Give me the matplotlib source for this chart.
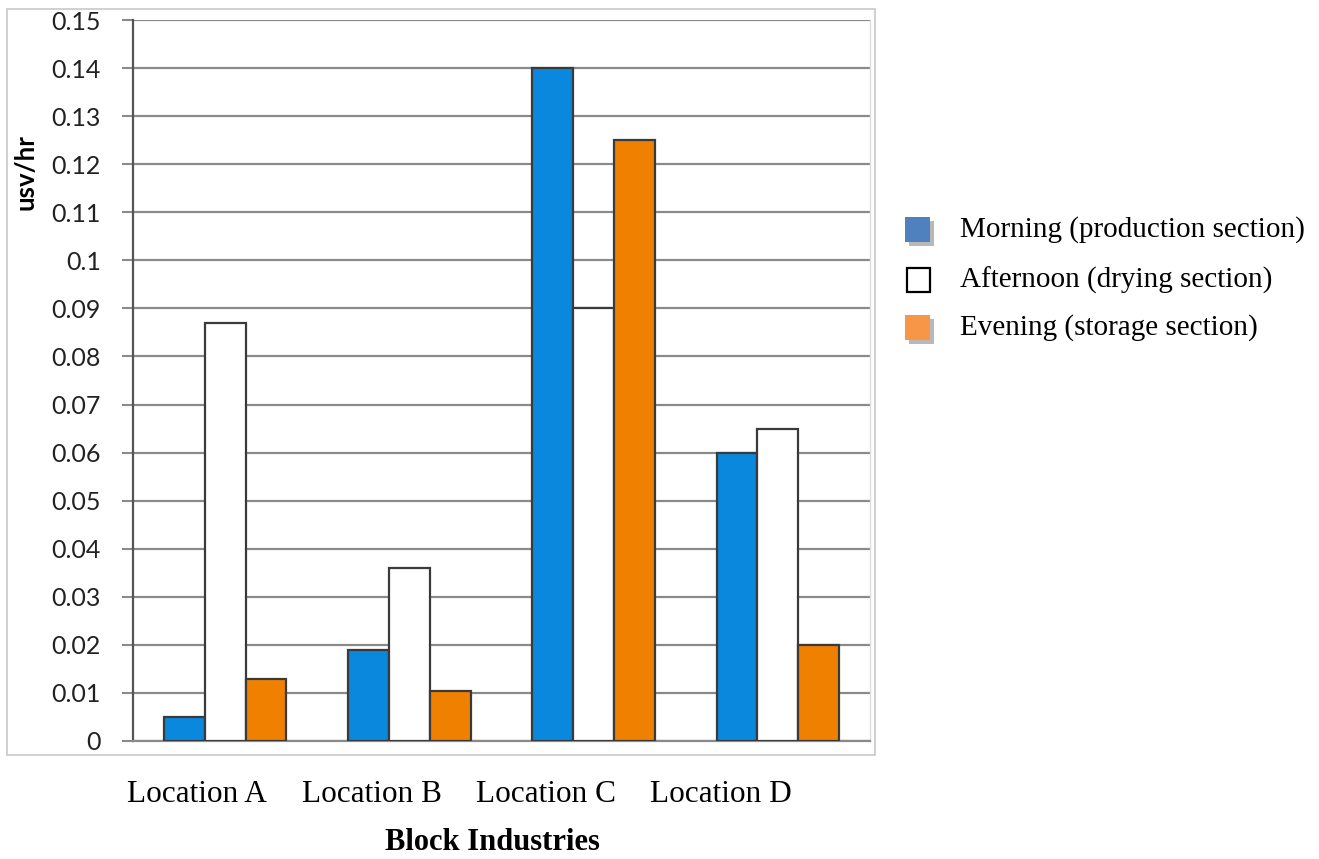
import matplotlib.pyplot as plt
import numpy as np
from matplotlib.patches import Rectangle

locations = ['Location A', 'Location B', 'Location C', 'Location D']
series = ['Morning (production section)', 'Afternoon (drying section)', 'Evening (storage section)']
morning = [0.005, 0.019, 0.140, 0.060]
afternoon = [0.087, 0.036, 0.090, 0.065]
evening = [0.013, 0.0105, 0.125, 0.020]
yticks = [0, 0.01, 0.02, 0.03, 0.04, 0.05, 0.06, 0.07, 0.08, 0.09, 0.1, 0.11, 0.12, 0.13, 0.14, 0.15]
ytick_labels = ['0', '0.01', '0.02', '0.03', '0.04', '0.05', '0.06', '0.07', '0.08', '0.09',
                '0.1', '0.11', '0.12', '0.13', '0.14', '0.15']

bar_colors = ['#0A88DE', '#FFFFFF', '#F08000']
key_colors = ['#4F81BD', '#FFFFFF', '#F79646']
edge = '#3a3a3a'
serif = 'Liberation Serif'

fig = plt.figure(figsize=(13.19, 8.59), dpi=100)
W, H = 1319, 859

def fx(px):
    return px / W

def fy(py):
    return 1 - py / H

# light frame around the plot area
fig.patches.append(Rectangle((fx(7), fy(755)), fx(875) - fx(7), fy(9) - fy(755),
                             transform=fig.transFigure, fill=False, ec='#c8c8c8', lw=1.2))

ax = fig.add_axes([fx(133), fy(741), fx(870) - fx(133), fy(20) - fy(741)])
x = np.arange(len(locations))
w = 0.222
for i, vals in enumerate([morning, afternoon, evening]):
    ax.bar(x + (i - 1) * w, vals, w, color=bar_colors[i], edgecolor=edge, linewidth=1.6, zorder=3)

ax.set_xlim(-0.5, 3.5)
ax.set_ylim(0, 0.15)
ax.set_yticks(yticks)
ax.set_yticklabels(ytick_labels, family='Lato', fontsize=18, color='#222222')
ax.tick_params(axis='y', length=8, width=1.5, color='#8a8a8a', pad=15)
ax.set_xticks([])
ax.yaxis.grid(True, color='#8a8a8a', linewidth=1.6, zorder=0)
ax.set_axisbelow(True)
for s in ['top', 'right']:
    ax.spines[s].set_visible(False)
ax.spines['left'].set_color('#555555')
ax.spines['left'].set_linewidth(1.6)
ax.spines['bottom'].set_color('#8a8a8a')
ax.spines['bottom'].set_linewidth(1.6)
ax.plot([1, 1], [0, 1], transform=ax.transAxes, color='#dddddd', lw=1.0, clip_on=False)

# category labels under the frame
for i, name in enumerate(locations):
    fig.text(fx(197 + 174.7 * i), fy(794), name, family=serif, fontsize=22.5,
             ha='center', va='center')

fig.text(fx(492), fy(843), 'Block Industries', family=serif, fontsize=22,
         fontweight='bold', ha='center', va='center')
fig.text(fx(25), fy(172), 'usv/hr', family='Lato', fontsize=18.5, fontweight='bold',
         rotation=90, ha='center', va='center')

# legend keys with a soft drop shadow on the filled ones
key_y = [230, 280, 328]
for i, name in enumerate(series):
    cy = key_y[i]
    if key_colors[i] != '#FFFFFF':
        fig.patches.append(Rectangle((fx(909), fy(cy + 16)), fx(25), 25 / H,
                                     transform=fig.transFigure, fc='#9a9a9a', ec='none', alpha=0.7))
        fig.patches.append(Rectangle((fx(905), fy(cy + 12)), fx(25), 25 / H,
                                     transform=fig.transFigure, fc=key_colors[i], ec='none'))
    else:
        fig.patches.append(Rectangle((fx(907), fy(cy + 12)), fx(23), 24 / H,
                                     transform=fig.transFigure, fc='white', ec='black', lw=1.6))
    fig.text(fx(960), fy(cy), name, family=serif, fontsize=21, ha='left', va='center')

fig.savefig('out.png', dpi=100)
